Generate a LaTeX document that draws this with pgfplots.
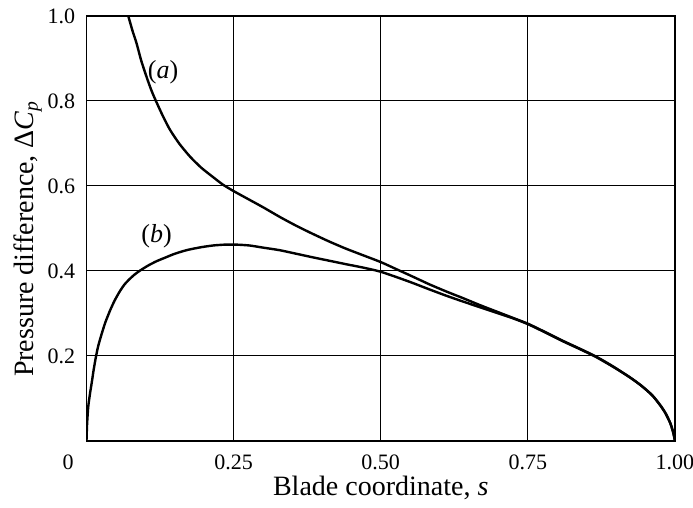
\documentclass[border=0pt]{standalone}
\usepackage{fontspec}
\setmainfont{Liberation Serif}
\usepackage{pgfplots}
\pgfplotsset{compat=1.18}

% curve (a): sharp leading edge, (b): shock-free entry
\pgfplotstableread{
s v
0.071 1.000
0.078 0.966
0.085 0.936
0.093 0.895
0.102 0.857
0.110 0.826
0.118 0.800
0.130 0.764
0.142 0.732
0.158 0.699
0.176 0.669
0.195 0.643
0.215 0.621
0.232 0.603
0.250 0.588
0.275 0.569
0.300 0.550
0.330 0.526
0.357 0.506
0.385 0.487
0.413 0.469
0.440 0.453
0.470 0.437
0.500 0.421
0.527 0.404
0.554 0.387
0.582 0.369
0.611 0.352
0.640 0.336
0.668 0.320
0.696 0.305
0.724 0.290
0.750 0.276
0.780 0.256
0.809 0.236
0.837 0.218
0.864 0.200
0.893 0.177
0.922 0.151
0.942 0.131
0.961 0.108
0.975 0.084
0.984 0.065
0.992 0.042
0.997 0.020
1.000 0.000
}\curvea

\pgfplotstableread{
s v
0.000 0.000
0.001 0.040
0.003 0.081
0.006 0.112
0.009 0.138
0.012 0.166
0.016 0.198
0.020 0.224
0.026 0.253
0.032 0.279
0.040 0.307
0.048 0.331
0.057 0.353
0.065 0.369
0.074 0.382
0.082 0.392
0.091 0.401
0.105 0.413
0.119 0.423
0.133 0.431
0.147 0.439
0.160 0.445
0.173 0.450
0.195 0.456
0.215 0.460
0.235 0.462
0.255 0.462
0.277 0.460
0.300 0.455
0.328 0.449
0.355 0.441
0.385 0.432
0.413 0.424
0.441 0.416
0.470 0.408
0.498 0.399
0.526 0.386
0.554 0.372
0.582 0.357
0.611 0.342
0.640 0.328
0.668 0.315
0.696 0.302
0.724 0.289
0.750 0.275
0.780 0.255
0.809 0.235
0.837 0.217
0.864 0.199
0.893 0.176
0.922 0.151
0.942 0.131
0.961 0.108
0.975 0.084
0.984 0.065
0.992 0.042
0.997 0.020
1.000 0.000
}\curveb

\begin{document}
\begin{tikzpicture}
\begin{axis}[
    name=ax,
    scale only axis,
    width=294.25pt, height=212.5pt,
    xmin=0, xmax=1, ymin=0, ymax=1,
    xtick={0.25,0.5,0.75,1},
    xticklabels={0.25,0.50,0.75,1.00},
    ytick={0.2,0.4,0.6,0.8,1.0},
    yticklabels={0.2,0.4,0.6,0.8,1.0},
    major tick length=0pt,
    grid=major,
    major grid style={black, line width=0.5pt},
    axis line style={black, line width=0.7pt},
    tick label style={font=\fontsize{11}{13}\selectfont},
    xticklabel style={yshift=-3.3pt},
    yticklabel style={xshift=-2.1pt},
    /pgf/number format/assume math mode=true,
    xlabel={Blade coordinate, \textit{s}},
    ylabel={Pressure difference, Δ\textit{C}\textsubscript{\textit{p}}},
    every axis x label/.style={at={(axis description cs:0.5,-0.11)}, anchor=center,
        font=\fontsize{14}{16}\selectfont},
    every axis y label/.style={at={(axis description cs:-0.1,0.476)}, anchor=center,
        rotate=90, font=\fontsize{14}{16}\selectfont},
    clip=true,
]
\addplot[black, line width=1.2pt, smooth, tension=0.4] table[x=s, y=v] {\curvea};
\addplot[black, line width=1.2pt, smooth, tension=0.4] table[x=s, y=v] {\curveb};
\node[font=\fontsize{13}{15}\selectfont] at (axis cs:0.130,0.868) {(\textit{a})};
\node[font=\fontsize{13}{15}\selectfont] at (axis cs:0.119,0.481) {(\textit{b})};
\end{axis}
\node[anchor=north, font=\fontsize{11}{13}\selectfont, yshift=-3.3pt, xshift=-9.2pt] at (ax.south west) {0};
\pgfresetboundingbox
\path[use as bounding box] ([shift={(-43.25pt,-33.5pt)}]ax.south west) rectangle ([shift={(303.25pt,220.5pt)}]ax.south west);
\end{tikzpicture}
\end{document}
